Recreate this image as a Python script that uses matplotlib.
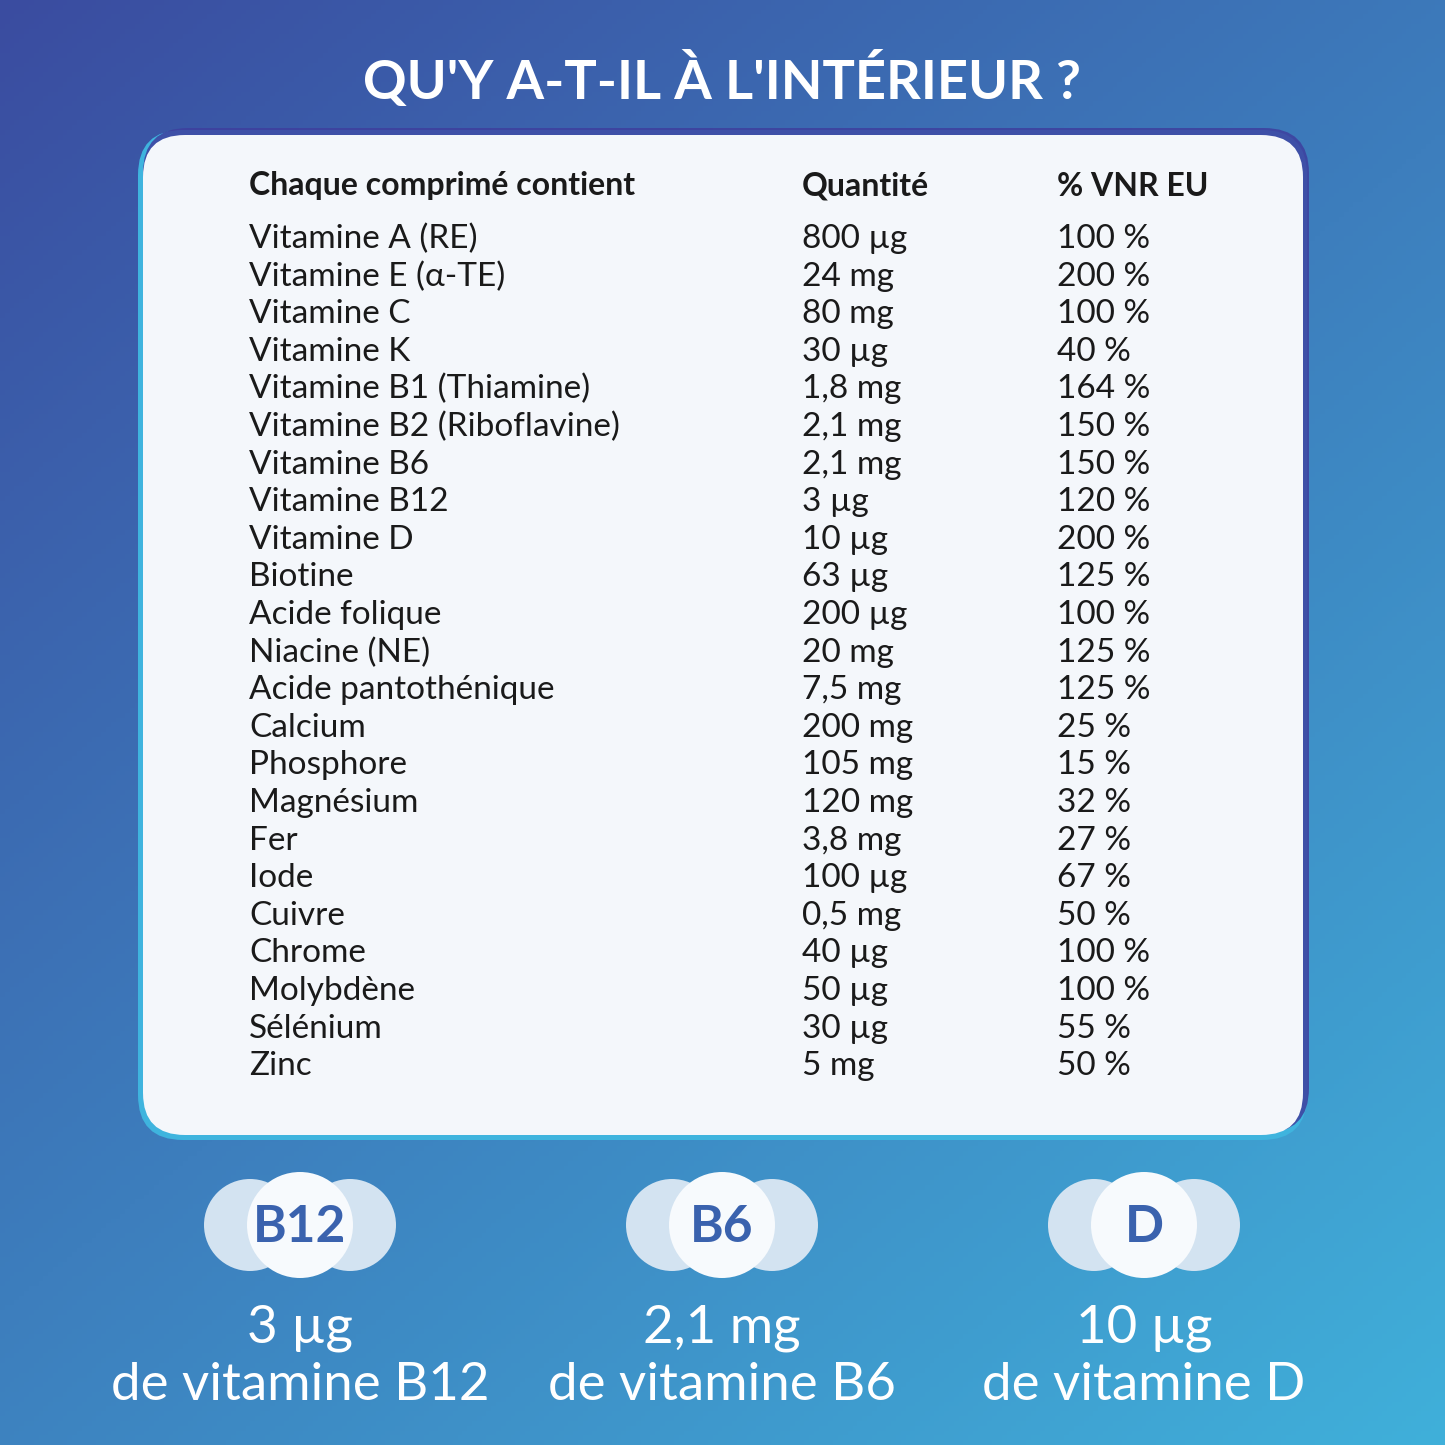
import numpy as np
import matplotlib
matplotlib.use("Agg")
import matplotlib.pyplot as plt
from matplotlib.patches import FancyBboxPatch, Circle

title = "QU'Y A-T-IL À L'INTÉRIEUR ?"
headers = ["Chaque comprimé contient", "Quantité", "% VNR EU"]
nutrients = ["Vitamine A (RE)", "Vitamine E (α-TE)", "Vitamine C", "Vitamine K",
             "Vitamine B1 (Thiamine)", "Vitamine B2 (Riboflavine)", "Vitamine B6",
             "Vitamine B12", "Vitamine D", "Biotine", "Acide folique", "Niacine (NE)",
             "Acide pantothénique", "Calcium", "Phosphore", "Magnésium", "Fer", "Iode",
             "Cuivre", "Chrome", "Molybdène", "Sélénium", "Zinc"]
quantities = ["800 µg", "24 mg", "80 mg", "30 µg", "1,8 mg", "2,1 mg", "2,1 mg", "3 µg",
              "10 µg", "63 µg", "200 µg", "20 mg", "7,5 mg", "200 mg", "105 mg", "120 mg",
              "3,8 mg", "100 µg", "0,5 mg", "40 µg", "50 µg", "30 µg", "5 mg"]
vnr = ["100 %", "200 %", "100 %", "40 %", "164 %", "150 %", "150 %", "120 %", "200 %",
       "125 %", "100 %", "125 %", "125 %", "25 %", "15 %", "32 %", "27 %", "67 %",
       "50 %", "100 %", "100 %", "55 %", "50 %"]
badges = ["B12", "B6", "D"]
badge_amounts = ["3 µg", "2,1 mg", "10 µg"]
badge_texts = ["de vitamine B12", "de vitamine B6", "de vitamine D"]

plt.rcParams['font.family'] = ['Lato', 'DejaVu Sans']
fig = plt.figure(figsize=(14.45, 14.45), dpi=100)
ax = fig.add_axes([0, 0, 1, 1])
ax.set_xlim(0, 1445); ax.set_ylim(1445, 0); ax.axis('off')

# background gradient
n = 300
yy, xx = np.mgrid[0:1:n*1j, 0:1:n*1j]
t = np.clip(0.55*yy + 0.45*xx, 0, 1)[..., None]
c0 = np.array([0x3A, 0x4C, 0xA0]) / 255
c1 = np.array([0x40, 0xB0, 0xDA]) / 255
img = c0*(1-t) + c1*t
ax.imshow(img, extent=[0, 1445, 1445, 0], zorder=0, aspect='auto')

# card border (gradient approximated by two layered patches)
border = FancyBboxPatch((138, 130), 1169, 1010, boxstyle="round,pad=0,rounding_size=45",
                        fc="#3FB4DE", ec="none", zorder=1)
ax.add_patch(border)
border2 = FancyBboxPatch((143, 128), 1166, 1005, boxstyle="round,pad=0,rounding_size=45",
                         fc="#3E3F9E", ec="none", zorder=1, alpha=0.85)
ax.add_patch(border2)
card = FancyBboxPatch((143, 135), 1160, 1000, boxstyle="round,pad=0,rounding_size=42",
                      fc="#F4F7FB", ec="none", zorder=2)
ax.add_patch(card)

ax.text(722, 80, title, color="white", fontsize=39, fontweight='bold',
        ha='center', va='center', zorder=3)

cols = [249, 802, 1057]
for x, h in zip(cols, headers):
    ax.text(x, 186, h, fontsize=23, fontweight='bold', color="#1a1a1a",
            ha='left', va='center', zorder=3)
y0, dy = 239, 37.6
for i, (a, b, c) in enumerate(zip(nutrients, quantities, vnr)):
    y = y0 + i*dy
    for x, s in zip(cols, (a, b, c)):
        ax.text(x, y, s, fontsize=24, color="#1a1a1a", ha='left', va='center', zorder=3)

for cx, b, am, tx in zip([300, 722, 1144], badges, badge_amounts, badge_texts):
    for dx in (-50, 50):
        ax.add_patch(Circle((cx+dx, 1225), 46, fc="#D3E3F1", ec="none", zorder=3))
    ax.add_patch(Circle((cx, 1225), 53, fc="#F7FAFD", ec="none", zorder=4))
    ax.text(cx, 1227, b, fontsize=37, fontweight='bold', color="#3A62AE",
            ha='center', va='center', zorder=5)
    ax.text(cx, 1328, am, fontsize=38, color="white", ha='center', va='center', zorder=5)
    ax.text(cx, 1385, tx, fontsize=38, color="white", ha='center', va='center', zorder=5)

fig.savefig("out.png", dpi=100)
